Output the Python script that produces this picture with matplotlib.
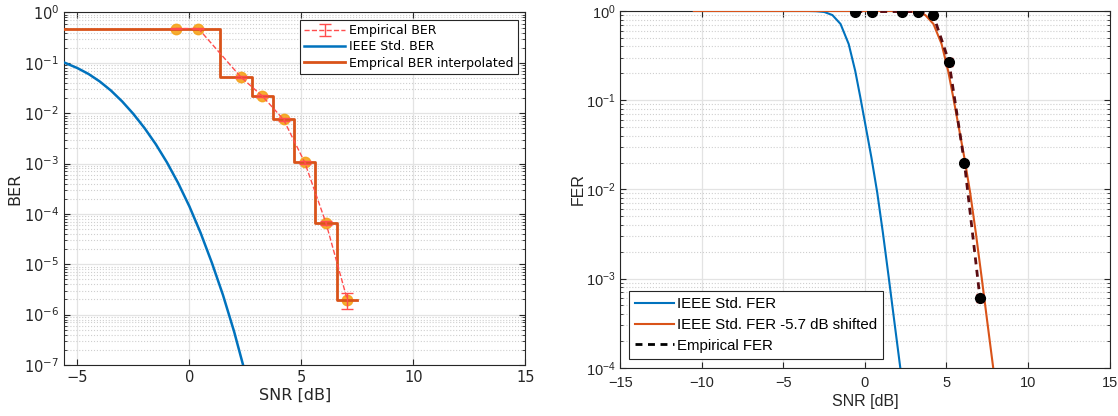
import numpy as np
import matplotlib
matplotlib.use('Agg')
import matplotlib.pyplot as plt

# Empirical measurement points (same SNR grid for BER and FER)
snr = [-0.6, 0.4, 2.3, 3.25, 4.2, 5.15, 6.1, 7.05]
ber = [0.48, 0.48, 0.052, 0.022, 0.0075, 0.00105, 6.5e-5, 1.95e-6]
ber_err_lo = [0.01, 0.01, 0.003, 0.0015, 0.0005, 0.00008, 0.6e-5, 0.65e-6]
ber_err_hi = [0.01, 0.01, 0.003, 0.0015, 0.0005, 0.00008, 0.6e-5, 0.75e-6]

fer = [0.985, 0.985, 0.985, 0.985, 0.89, 0.27, 0.0198, 6.1e-4]
fer_err = [0.005, 0.005, 0.005, 0.005, 0.02, 0.03, 0.0012, 0.6e-4]

# IEEE standard reference curves
ieee_ber_snr = [-5.6, -5.0, -4.5, -4.0, -3.5, -3.0, -2.5, -2.0, -1.5, -1.0,
                -0.5, 0.0, 0.5, 1.0, 1.5, 2.0, 2.5]
ieee_ber = [0.102, 0.0787, 0.060, 0.0426, 0.0281, 0.0171, 0.00966, 0.00504, 0.00242, 0.00105,
            4.08e-4, 1.41e-4, 4.2e-5, 1.08e-5, 2.44e-6, 4.53e-7, 6.7e-8]

ieee_fer_snr = [-10.5, -3.5, -3.0, -2.5, -2.0, -1.5, -1.0, -0.6, -0.3, 0.0,
                0.4, 0.75, 1.1, 1.45, 1.8, 2.15, 2.5]
ieee_fer = [1.0, 1.0, 0.995, 0.975, 0.9, 0.715, 0.426, 0.213, 0.111, 0.056,
            0.0224, 0.00923, 0.00324, 0.00105, 3.3e-4, 1.05e-4, 3.3e-5]
shift_db = 5.7
shifted_snr = [ieee_fer_snr[0]] + [s + shift_db for s in ieee_fer_snr[1:]]

blue = '#0072BD'
orange = '#D95319'


def matlab_style(ax):
    ax.set_axisbelow(True)
    ax.grid(True, which='major', color='#e3e3e3', linewidth=0.9)
    ax.grid(True, which='minor', axis='y', color='#cfcfcf', linestyle=':', linewidth=0.8)
    ax.tick_params(which='both', direction='in', top=True, right=True, colors='#262626')
    ax.tick_params(which='major', length=4)
    ax.tick_params(which='minor', length=2)
    for s in ax.spines.values():
        s.set_color('#262626')
        s.set_linewidth(0.8)


fig = plt.figure(figsize=(11.18, 4.16), dpi=100)

# ---- left: BER ----
ax1 = fig.add_axes([0.0572, 0.1226, 0.4128, 0.8474])
ax1.set_yscale('log')
ax1.plot(snr, ber, 'o', color='#f5a31a', markersize=7.5, alpha=0.9, zorder=2)
step_x = [-6.0] + snr + [7.5]
step_y = [ber[0]] + ber + [ber[-1]]
eb = ax1.errorbar(snr, ber, yerr=[ber_err_lo, ber_err_hi], color='#ff4d4d', linestyle='--',
                  linewidth=1.0, capsize=4, elinewidth=1.0, label='Empirical BER', zorder=4)
l2, = ax1.plot(ieee_ber_snr, ieee_ber, color=blue, linewidth=1.8, label='IEEE Std. BER', zorder=3)
l3, = ax1.step(step_x, step_y, where='mid', color=orange, linewidth=2.0,
               label='Emprical BER interpolated', zorder=3)
ax1.set_xlim(-5.6, 15)
ax1.set_ylim(1e-7, 1)
ax1.set_xticks([-5, 0, 5, 10, 15])
ax1.set_yticks([10.0 ** k for k in range(-7, 1)])
matlab_style(ax1)
ax1.tick_params(labelsize=10.5)
ax1.set_xlabel('SNR [dB]', fontsize=11.5, color='#262626', labelpad=2)
ax1.set_ylabel('BER', fontsize=11.5, color='#262626', labelpad=1)
leg1 = ax1.legend(handles=[eb, l2, l3], loc='upper right', fontsize=9.0, fancybox=False,
                  framealpha=1, edgecolor='#262626', borderpad=0.35, labelspacing=0.25,
                  handlelength=3.3, handletextpad=0.3, borderaxespad=0.6)
leg1.get_frame().set_linewidth(0.8)

# ---- right: FER ----
sans = 'Liberation Sans'
ax2 = fig.add_axes([0.555, 0.116, 0.4374, 0.8576])
ax2.set_yscale('log')
m1, = ax2.plot(ieee_fer_snr, ieee_fer, color=blue, linewidth=1.5, label='IEEE Std. FER', zorder=3)
m2, = ax2.plot(shifted_snr, ieee_fer, color=orange, linewidth=1.5,
               label='IEEE Std. FER -5.7 dB shifted', zorder=3)
ax2.errorbar(snr, fer, yerr=fer_err, fmt='none', ecolor='#ff3b3b', capsize=3, elinewidth=1.0, zorder=4)
m3, = ax2.plot(snr, fer, color='#5a0c12', linestyle='--', linewidth=2.0, dashes=(2.5, 2),
               marker='o', markersize=7, markerfacecolor='black', markeredgecolor='black',
               label='Empirical FER', zorder=5)
ax2.set_xlim(-15, 15)
ax2.set_ylim(1e-4, 1)
ax2.set_xticks([-15, -10, -5, 0, 5, 10, 15])
ax2.set_yticks([1e-4, 1e-3, 1e-2, 1e-1, 1])
matlab_style(ax2)
ax2.tick_params(labelsize=10.5)
ax2.tick_params(axis='x', pad=6)
for t in ax2.get_xticklabels() + ax2.get_yticklabels():
    t.set_fontfamily(sans)
ax2.set_xlabel('SNR [dB]', fontsize=11.5, fontfamily=sans, color='#262626', labelpad=3)
ax2.set_ylabel('FER', fontsize=11.5, fontfamily=sans, color='#262626', labelpad=0)
h3 = plt.Line2D([], [], color='black', linestyle='--', linewidth=2.0, dashes=(2.5, 2))
leg2 = ax2.legend(handles=[m1, m2, h3], labels=[m1.get_label(), m2.get_label(), 'Empirical FER'],
                  loc='lower left', prop={'family': sans, 'size': 10.8}, fancybox=False,
                  framealpha=1, edgecolor='#262626', borderpad=0.4, labelspacing=0.45,
                  handlelength=2.6, handletextpad=0.15, borderaxespad=0.6)
leg2.get_frame().set_linewidth(0.8)

fig.savefig('out.png', dpi=100)
